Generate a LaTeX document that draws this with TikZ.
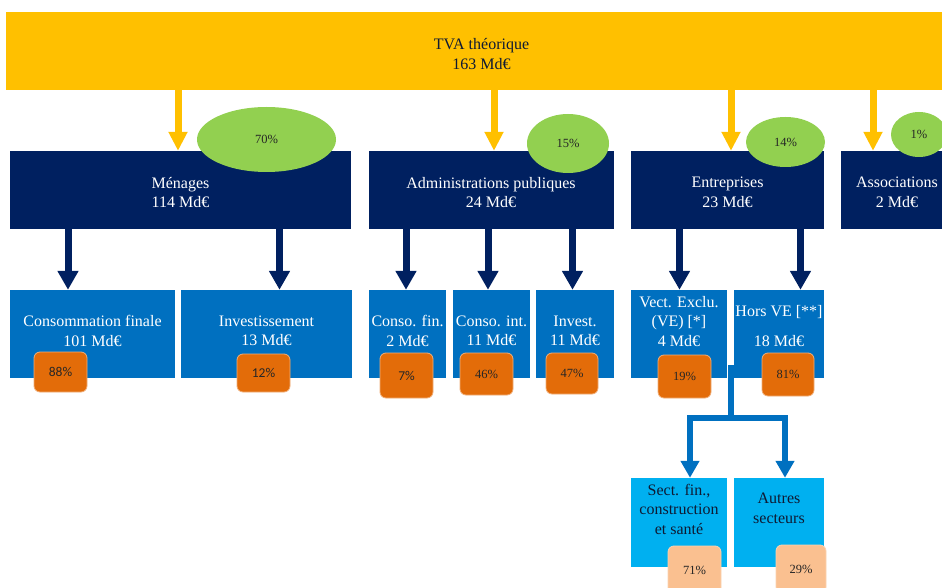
\documentclass[tikz,border=0pt]{standalone}
\usepackage{fontspec}
\setmainfont{Liberation Serif}
\newfontfamily\pctsans{Carlito}
\usetikzlibrary{arrows.meta,shapes.geometric}
\definecolor{tvay}{HTML}{FFC000}
\definecolor{navy}{HTML}{002060}
\definecolor{midb}{HTML}{0070C0}
\definecolor{skyb}{HTML}{00B0F0}
\definecolor{leaf}{HTML}{92D050}
\definecolor{orng}{HTML}{E36C09}
\definecolor{peach}{HTML}{FAC090}
\definecolor{darktxt}{HTML}{0F1A33}
\begin{document}
\begin{tikzpicture}[x=1pt,y=-1pt,
  sector/.style={rectangle,fill=navy,inner sep=0pt,minimum height=78pt},
  usebox/.style={rectangle,fill=midb,inner sep=0pt,minimum height=88pt},
  subbox/.style={rectangle,fill=skyb,inner sep=0pt,minimum height=89pt},
  wtxt/.style={text=white,align=center,inner sep=0pt,font=\fontsize{16}{19.5}\selectfont},
  dtxt/.style={text=darktxt,align=center,inner sep=0pt,font=\fontsize{16}{19.5}\selectfont},
  share/.style={ellipse,fill=leaf,inner sep=0pt,text=black!85,font=\fontsize{12.5}{14}\selectfont},
  pctbox/.style={rectangle,rounded corners=6pt,fill=orng,draw=orng!55!white,line width=0.8pt,inner sep=0pt,minimum width=53pt,text=black!85,font=\fontsize{12.5}{14}\selectfont},
  pctsansbox/.style={pctbox,font=\pctsans\fontsize{13.5}{15}\selectfont},
  peachbox/.style={pctbox,fill=peach,draw=peach!70!white,minimum height=48pt},
  yarr/.style={draw=tvay,line width=7pt,-{Triangle[width=18pt,length=19pt]}},
  narr/.style={draw=navy,line width=7pt,-{Triangle[width=20pt,length=19pt]}},
  barr/.style={draw=midb,line width=6pt,-{Triangle[width=18pt,length=17pt]}},
  bline/.style={draw=midb,line width=6pt}
]
\useasboundingbox (0,0) rectangle (942,588);
\clip (0,0) rectangle (942,588);
\fill[white] (0,0) rectangle (942,588);

% top bar
\node[rectangle,fill=tvay,inner sep=0pt,minimum width=954pt,minimum height=78pt] (tva) at (483,51) {};
\node[text=darktxt,align=center,inner sep=0pt,font=\fontsize{16}{19.5}\selectfont] (tvat) at (481.5,54) {TVA théorique\\163 Md€};

% sector boxes
\node[sector,minimum width=341pt] (men) at (180.5,190) {};
\node[sector,minimum width=245pt] (adm) at (491,190) {};
\node[sector,minimum width=193pt] (ent) at (727.5,190) {};
\node[sector,minimum width=112pt] (ass) at (897,190) {};
\node[wtxt] (ment) at (180.5,192.5) {Ménages\\114 Md€};
\node[wtxt] (admt) at (491,192.5) {Administrations publiques\\24 Md€};
\node[wtxt] (entt) at (727.5,192.5) {Entreprises\\23 Md€};
\node[wtxt] (asst) at (897,192.5) {Associations\\2 Md€};

% yellow arrows
\draw[yarr] (178,0 |- tva.south) -- (178,0 |- men.north);
\draw[yarr] (494,0 |- tva.south) -- (494,0 |- adm.north);
\draw[yarr] (731,0 |- tva.south) -- (731,0 |- ent.north);
\draw[yarr] (873,0 |- tva.south) -- (873,0 |- ass.north);

% shares
\node[share,minimum width=139pt,minimum height=65pt] (s70) at (266.5,139.5) {70\%};
\node[share,minimum width=82pt,minimum height=59pt] (s15) at (568,143.5) {15\%};
\node[share,minimum width=79pt,minimum height=50pt] (s14) at (785.5,142) {14\%};
\node[share,minimum width=56pt,minimum height=45pt] (s01) at (919,134.5) {1\%};

% use boxes
\node[usebox,minimum width=165pt] (cf) at (92.5,334) {};
\node[usebox,minimum width=171pt] (inv) at (266.5,334) {};
\node[usebox,minimum width=77pt] (cfi) at (407.5,334) {};
\node[usebox,minimum width=77pt] (cin) at (491.5,334) {};
\node[usebox,minimum width=78pt] (ivt) at (575,334) {};
\node[usebox,minimum width=96pt] (ve) at (679,334) {};
\node[usebox,minimum width=90pt] (hve) at (779,334) {};
\node[wtxt] (cft) at (92.5,331) {Consommation finale\\101 Md€};
\node[wtxt] (invt) at (266.5,331) {Investissement\\13 Md€};
\node[wtxt] (cfit) at (407.5,331) {Conso. fin.\\2 Md€};
\node[wtxt] (cint) at (491.5,331) {Conso. int.\\11 Md€};
\node[wtxt] (ivtt) at (575,331) {Invest.\\11 Md€};
\node[wtxt] (vet) at (679,321.5) {Vect. Exclu.\\(VE) [*]\\4 Md€};
\node[wtxt] (hvet) at (779,326) {Hors VE [**]\\[10.5pt]18 Md€};

% navy arrows
\draw[narr] (68,0 |- men.south) -- (68,0 |- cf.north);
\draw[narr] (279.5,0 |- men.south) -- (279.5,0 |- inv.north);
\draw[narr] (406,0 |- adm.south) -- (406,0 |- cfi.north);
\draw[narr] (488,0 |- adm.south) -- (488,0 |- cin.north);
\draw[narr] (572.5,0 |- adm.south) -- (572.5,0 |- ivt.north);
\draw[narr] (679.5,0 |- ent.south) -- (679.5,0 |- ve.north);
\draw[narr] (800.5,0 |- ent.south) -- (800.5,0 |- hve.north);

% percentage boxes
\node[pctsansbox,minimum height=40pt] (p88) at (60.5,372) {88\%};
\node[pctsansbox,minimum height=38pt] (p12) at (263.5,373) {12\%};
\node[pctsansbox,minimum height=45pt] (p07) at (406.5,375.5) {7\%};
\node[pctbox,minimum height=42pt] (p46) at (486.5,374) {46\%};
\node[pctbox,minimum height=41pt,minimum width=52pt] (p47) at (572,373.5) {47\%};
\node[pctbox,minimum height=43pt] (p19) at (684.5,376.5) {19\%};
\node[pctbox,minimum height=43pt,minimum width=52pt] (p81) at (788,374.5) {81\%};

% split connector
\coordinate (hvs) at (731,365);
\coordinate (split) at (731,418);
\node[subbox,minimum width=96pt] (sf) at (679,522.5) {};
\node[subbox,minimum width=90pt] (au) at (779,522.5) {};
\draw[bline] (hvs) -- (split);
\draw[barr] (split) -- (690,418) -- (690,0 |- sf.north);
\draw[barr] (split) -- (785,418) -- (785,0 |- au.north);
\node[dtxt] (sft) at (679,509) {Sect. fin.,\\construction\\et santé};
\node[dtxt] (aut) at (779,508.5) {Autres\\secteurs};

\node[peachbox,minimum width=53pt] (p71) at (694.5,570) {71\%};
\node[peachbox,minimum width=50pt] (p29) at (801,569) {29\%};
\end{tikzpicture}
\end{document}
